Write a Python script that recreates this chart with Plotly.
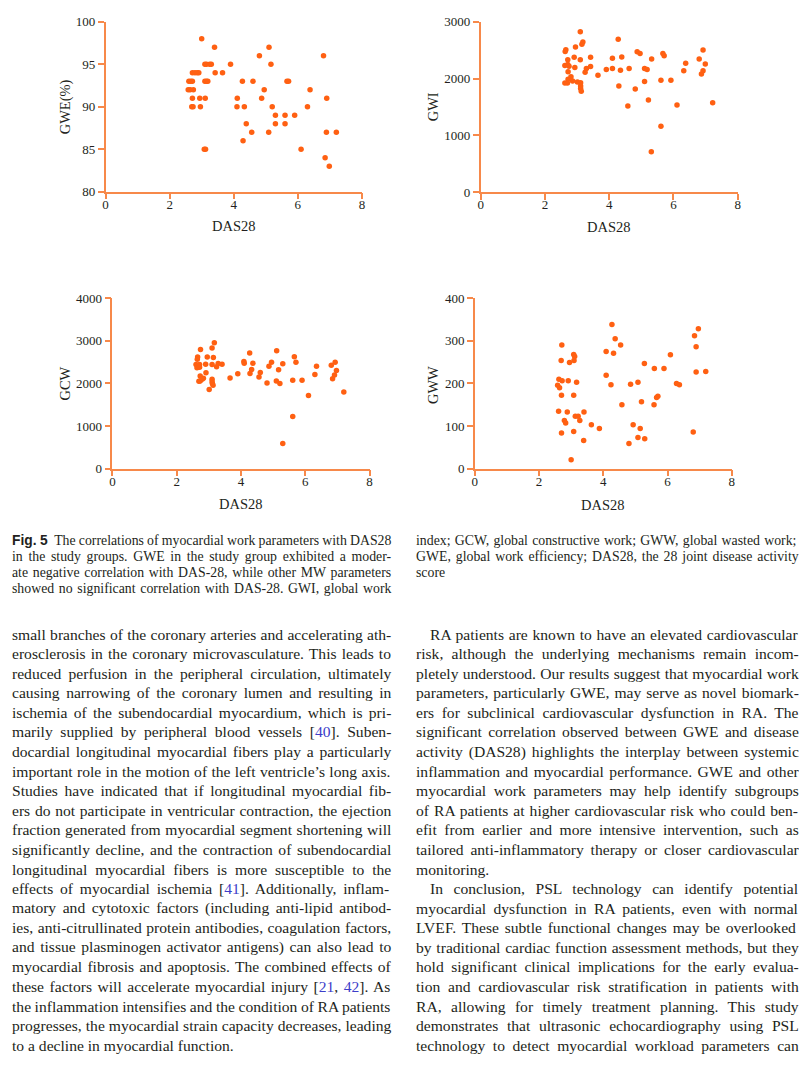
import re
import plotly.graph_objects as go

# ---------------- data ----------------
das_gwe = [3.0, 3.4, 5.1, 4.8, 6.8,
           3.1, 3.15, 3.25, 3.3, 3.9, 5.16,
           2.71, 2.79, 2.86, 2.91, 3.42, 3.65,
           2.6, 2.66, 2.71, 3.1, 3.15, 3.19, 4.27, 4.6, 5.66, 5.71,
           2.58, 2.64, 2.74, 4.95, 6.38,
           2.71, 2.94, 3.11, 4.11, 4.87, 6.9,
           2.69, 2.73, 2.96, 4.1, 4.33, 5.2, 6.3,
           5.3, 5.6, 5.9,
           4.39, 5.3, 5.6,
           4.56, 5.09, 6.89, 7.2,
           4.29,
           3.08, 3.12, 6.1,
           6.85,
           6.98]
gwe = [98, 97, 97, 96, 96,
       95, 95, 95, 95, 95, 95,
       94, 94, 94, 94, 94, 94,
       93, 93, 93, 93, 93, 93, 93, 93, 93, 93,
       92, 92, 92, 92, 92,
       91, 91, 91, 91, 91, 91,
       90, 90, 90, 90, 90, 90, 90,
       89, 89, 89,
       88, 88, 88,
       87, 87, 87, 87,
       86,
       85, 85, 85,
       84,
       83]

das_gwi = [3.10, 4.28, 3.18, 3.15, 2.65, 2.63, 2.95, 6.92, 4.87, 4.96, 5.67, 5.71,
           2.71, 2.91, 3.10, 3.42, 4.10, 4.39, 5.32, 6.80, 6.38, 6.99,
           2.62, 2.71, 2.75, 2.93, 3.29, 3.42, 3.91, 4.10, 4.35, 4.62, 5.10, 5.18,
           6.32, 6.92, 6.87, 2.72, 3.25, 2.81, 2.86, 2.72, 3.65, 2.62, 2.70,
           3.01, 3.11, 3.11, 3.11, 3.13, 4.30, 5.10, 5.61, 5.92, 4.81, 5.22,
           4.58, 6.11, 7.22, 5.61, 5.31]
gwi = [2826, 2692, 2646, 2606, 2507, 2478, 2554, 2501, 2472, 2443, 2443, 2403,
       2333, 2374, 2333, 2374, 2357, 2380, 2345, 2345, 2270, 2258,
       2229, 2247, 2218, 2195, 2177, 2212, 2160, 2177, 2148, 2177, 2177, 2160,
       2137, 2137, 2079, 2119, 2113, 2032, 1957, 1986, 2056, 1922, 1922,
       1940, 1928, 1870, 1824, 1778, 1870, 1946, 1969, 1969, 1818, 1621,
       1517, 1534, 1575, 1158, 712]

das_gcw = [3.17, 3.10, 2.74, 5.11, 4.27, 5.66, 2.65, 2.64, 2.95, 3.14,
           4.09, 4.10, 5.71, 6.93, 4.95, 4.37, 2.60, 2.71, 2.90, 3.10,
           3.29, 3.41, 5.30, 6.35, 6.81, 3.24, 4.87, 2.63, 2.71, 4.33,
           5.17, 6.97, 4.60, 2.91, 4.28, 3.90, 6.30, 6.91, 2.73, 2.83,
           3.66, 4.56, 6.85, 2.69, 2.73, 2.79, 3.10, 3.10, 3.11, 3.13,
           5.61, 5.90, 5.10, 4.81, 5.21, 3.01, 7.20, 6.10, 5.61, 5.30]
gcw = [2952, 2829, 2798, 2767, 2713, 2628, 2620, 2566, 2620, 2605,
       2512, 2474, 2497, 2497, 2497, 2474, 2443, 2443, 2451, 2443,
       2466, 2451, 2459, 2405, 2428, 2389, 2405, 2366, 2382, 2328,
       2320, 2304, 2258, 2250, 2235, 2227, 2212, 2197, 2173, 2119,
       2127, 2150, 2112, 2050, 2058, 2096, 2096, 2042, 1996, 1958,
       2073, 2073, 2058, 2011, 1996, 1857, 1796, 1719, 1225, 593]

das_gww = [4.27, 6.96, 6.84, 4.37, 2.71, 4.54, 6.89, 3.08, 3.11, 4.09,
           4.32, 6.09, 2.69, 3.09, 2.95, 5.28, 5.59, 5.89, 6.89, 7.19,
           4.09, 2.62, 2.72, 2.91, 3.17, 5.08, 2.58, 2.64, 4.24, 4.85,
           6.28, 6.37, 2.70, 3.08, 5.66, 5.70, 4.58, 5.58, 5.19, 2.61,
           2.88, 3.40, 3.13, 3.22, 3.27, 2.79, 2.83, 3.63, 4.93, 3.88,
           5.15, 3.08, 2.70, 6.80, 5.08, 5.29, 3.39, 4.80, 3.00]
gww = [338, 328, 312, 305, 290, 290, 286, 268, 263, 275,
       271, 267, 254, 254, 249, 247, 235, 235, 227, 228,
       219, 210, 206, 206, 203, 203, 196, 190, 197, 198,
       200, 197, 172, 172, 167, 170, 150, 150, 157, 135,
       133, 133, 123, 123, 113, 113, 107, 103, 103, 94,
       94, 87, 84, 86, 73, 70, 66, 59, 21]

x_ticks = [0, 2, 4, 6, 8]
gwe_ticks = [80, 85, 90, 95, 100]
gwi_ticks = [0, 1000, 2000, 3000]
gcw_ticks = [0, 1000, 2000, 3000, 4000]
gww_ticks = [0, 100, 200, 300, 400]
x_title = "DAS28"
y_titles = ["GWE(%)", "GWI", "GCW", "GWW"]

CITE = "<span style='fill:#3d3dc9'>%s</span>"
caption_left = [
    "<span style='font-family:Liberation Sans'><b>Fig. 5</b></span>&nbsp;&nbsp;The correlations of myocardial work parameters with DAS28",
    "in the study groups. GWE in the study group exhibited a moder-",
    "ate negative correlation with DAS-28, while other MW parameters",
    "showed no significant correlation with DAS-28. GWI, global work",
]
caption_right = [
    "index; GCW, global constructive work; GWW, global wasted work;",
    "GWE, global work efficiency; DAS28, the 28 joint disease activity",
    "score",
]
body_left = [
    "small branches of the coronary arteries and accelerating ath-",
    "erosclerosis in the coronary microvasculature. This leads to",
    "reduced perfusion in the peripheral circulation, ultimately",
    "causing narrowing of the coronary lumen and resulting in",
    "ischemia of the subendocardial myocardium, which is pri-",
    "marily supplied by peripheral blood vessels [" + CITE % "40" + "]. Suben-",
    "docardial longitudinal myocardial fibers play a particularly",
    "important role in the motion of the left ventricle’s long axis.",
    "Studies have indicated that if longitudinal myocardial fib-",
    "ers do not participate in ventricular contraction, the ejection",
    "fraction generated from myocardial segment shortening will",
    "significantly decline, and the contraction of subendocardial",
    "longitudinal myocardial fibers is more susceptible to the",
    "effects of myocardial ischemia [" + CITE % "41" + "]. Additionally, inflam-",
    "matory and cytotoxic factors (including anti-lipid antibod-",
    "ies, anti-citrullinated protein antibodies, coagulation factors,",
    "and tissue plasminogen activator antigens) can also lead to",
    "myocardial fibrosis and apoptosis. The combined effects of",
    "these factors will accelerate myocardial injury [" + CITE % "21" + ", " + CITE % "42" + "]. As",
    "the inflammation intensifies and the condition of RA patients",
    "progresses, the myocardial strain capacity decreases, leading",
    "to a decline in myocardial function.",
]
body_right = [
    "RA patients are known to have an elevated cardiovascular",
    "risk, although the underlying mechanisms remain incom-",
    "pletely understood. Our results suggest that myocardial work",
    "parameters, particularly GWE, may serve as novel biomark-",
    "ers for subclinical cardiovascular dysfunction in RA. The",
    "significant correlation observed between GWE and disease",
    "activity (DAS28) highlights the interplay between systemic",
    "inflammation and myocardial performance. GWE and other",
    "myocardial work parameters may help identify subgroups",
    "of RA patients at higher cardiovascular risk who could ben-",
    "efit from earlier and more intensive intervention, such as",
    "tailored anti-inflammatory therapy or closer cardiovascular",
    "monitoring.",
    "In conclusion, PSL technology can identify potential",
    "myocardial dysfunction in RA patients, even with normal",
    "LVEF. These subtle functional changes may be overlooked",
    "by traditional cardiac function assessment methods, but they",
    "hold significant clinical implications for the early evalua-",
    "tion and cardiovascular risk stratification in patients with",
    "RA, allowing for timely treatment planning. This study",
    "demonstrates that ultrasonic echocardiography using PSL",
    "technology to detect myocardial workload parameters can",
]
right_indented = {0, 13}
ragged_caption_right = {2}
ragged_body_left = {21}
ragged_body_right = {12}

# ---------------- styling ----------------
W, H = 799, 1066
AXIS_COLOR = "#F7894A"
DOT_COLOR = "#FF6012"
TXT = "#231F20"
SERIF = "Liberation Serif"

# Times metric widths (Liberation Serif is metric-compatible), per 1000 em
_TW = dict(zip(" !\"#$%&'()*+,-./0123456789:;<=>?@",
               [250, 333, 408, 500, 500, 833, 778, 180, 333, 333, 500, 564, 250, 333, 250, 278,
                500, 500, 500, 500, 500, 500, 500, 500, 500, 500, 278, 278, 564, 564, 564, 444, 921]))
_TW.update(dict(zip("ABCDEFGHIJKLMNOPQRSTUVWXYZ",
                    [722, 667, 667, 722, 611, 556, 722, 722, 333, 389, 722, 611, 889, 722, 722, 556,
                     722, 667, 556, 611, 722, 722, 944, 722, 722, 611])))
_TW.update(dict(zip("abcdefghijklmnopqrstuvwxyz",
                    [444, 500, 444, 500, 444, 333, 500, 500, 278, 278, 500, 278, 778, 500, 500, 500,
                     500, 333, 389, 278, 500, 500, 722, 500, 500, 444])))
_TW.update({"[": 333, "]": 333, "’": 333, "\u00a0": 250})
_HB = {"F": 611, "i": 278, "g": 611, ".": 278, " ": 278, "5": 556}


def _visible(s):
    return re.sub(r"<[^>]+>", "", s).replace("&nbsp;", "\u00a0")


def _measure(s, size):
    vis = _visible(s)
    w = 0.0
    if vis.startswith("Fig. 5"):
        w += sum(_HB[c] for c in "Fig. 5")
        vis = vis[6:]
    w += sum(_TW.get(c, 500) for c in vis)
    return w * size / 1000.0


def justify(s, size, width):
    vis = _visible(s)
    n = vis.count(" ") + vis.count("\u00a0")
    if n == 0:
        return s
    ws = (width - _measure(s, size)) / n
    return "<span style='word-spacing:%.2fpx'>%s</span>" % (ws, s)


panels = [
    dict(x=das_gwe, y=gwe, xpx=(103.3, 361.7), ypx=(15.0, 187.3), yrange=[80, 100], yticks=gwe_ticks,
         xt=(232.7, 222.5), yt=(62.7, 101.5)),
    dict(x=das_gwi, y=gwi, xpx=(481.3, 740.3), ypx=(15.0, 187.7), yrange=[0, 3000], yticks=gwi_ticks,
         xt=(611.0, 223.0), yt=(433.5, 101.5)),
    dict(x=das_gcw, y=gcw, xpx=(110.3, 369.3), ypx=(295.3, 468.3), yrange=[0, 4000], yticks=gcw_ticks,
         xt=(239.5, 504.0), yt=(62.7, 381.7)),
    dict(x=das_gww, y=gww, xpx=(475.3, 734.3), ypx=(295.3, 468.3), yrange=[0, 400], yticks=gww_ticks,
         xt=(604.5, 505.0), yt=(432.7, 383.0)),
]

fig = go.Figure()
layout = dict(
    width=W, height=H,
    margin=dict(l=0, r=0, t=0, b=0),
    paper_bgcolor="white", plot_bgcolor="white",
    showlegend=False,
    font=dict(family=SERIF, color=TXT),
)
annotations = []

for i, p in enumerate(panels):
    n = "" if i == 0 else str(i + 1)
    fig.add_trace(go.Scatter(
        x=p["x"], y=p["y"], mode="markers",
        marker=dict(color=DOT_COLOR, size=5.5, line=dict(width=0)),
        xaxis="x" + n, yaxis="y" + n, hoverinfo="x+y",
    ))
    common = dict(
        showline=True, linecolor=AXIS_COLOR, linewidth=1.5,
        ticks="outside", ticklen=6, tickwidth=1.5, tickcolor=AXIS_COLOR,
        showgrid=False, zeroline=False,
        tickfont=dict(family=SERIF, size=13, color=TXT),
    )
    layout["xaxis" + n] = dict(
        common, domain=[p["xpx"][0] / W, p["xpx"][1] / W], range=[0, 8],
        tickmode="array", tickvals=x_ticks, anchor="y" + n, ticklabelstandoff=-6,
    )
    layout["yaxis" + n] = dict(
        common, domain=[1 - p["ypx"][1] / H, 1 - p["ypx"][0] / H], range=p["yrange"],
        tickmode="array", tickvals=p["yticks"], anchor="x" + n,
    )
    annotations.append(dict(
        text=x_title, x=p["xt"][0] / W, y=1 - p["xt"][1] / H, xref="paper", yref="paper",
        xanchor="center", yanchor="middle", showarrow=False,
        font=dict(family=SERIF, size=14.5, color=TXT),
    ))
    annotations.append(dict(
        text=y_titles[i], x=p["yt"][0] / W, y=1 - p["yt"][1] / H, xref="paper", yref="paper",
        xanchor="center", yanchor="middle", showarrow=False, textangle=-90,
        font=dict(family=SERIF, size=14.5, color=TXT),
    ))


def add_line(text, xpx, ypx, size):
    annotations.append(dict(
        text=text, x=xpx / W, y=1 - ypx / H, xref="paper", yref="paper",
        xanchor="left", yanchor="middle", showarrow=False, align="left",
        font=dict(family=SERIF, size=size, color=TXT),
    ))


LEFT_X0, LEFT_X1 = 7.5, 387.0
RIGHT_X0, RIGHT_X1, INDENT_X0 = 414.0, 797.0, 428.3
CAP_SIZE, BODY_SIZE = 13.8, 15.6

CAP_Y0, CAP_DY = 541.5, 16.0
for k, t in enumerate(caption_left):
    add_line(justify(t, CAP_SIZE, LEFT_X1 - LEFT_X0), LEFT_X0, CAP_Y0 + k * CAP_DY, CAP_SIZE)
for k, t in enumerate(caption_right):
    tt = t if k in ragged_caption_right else justify(t, CAP_SIZE, RIGHT_X1 - RIGHT_X0)
    add_line(tt, RIGHT_X0, CAP_Y0 + k * CAP_DY, CAP_SIZE)

BODY_Y0, BODY_DY = 636.0, 19.86
for k, t in enumerate(body_left):
    tt = t if k in ragged_body_left else justify(t, BODY_SIZE, LEFT_X1 - LEFT_X0)
    add_line(tt, LEFT_X0, BODY_Y0 + k * BODY_DY, BODY_SIZE)
for k, t in enumerate(body_right):
    x0 = INDENT_X0 if k in right_indented else RIGHT_X0
    tt = t if k in ragged_body_right else justify(t, BODY_SIZE, RIGHT_X1 - x0)
    add_line(tt, x0, BODY_Y0 + k * BODY_DY, BODY_SIZE)

layout["annotations"] = annotations
fig.update_layout(**layout)
fig.write_html(
    "out.html",
    config={"displayModeBar": False},
    post_script="document.body.style.margin='0';document.body.style.overflow='hidden';",
)
